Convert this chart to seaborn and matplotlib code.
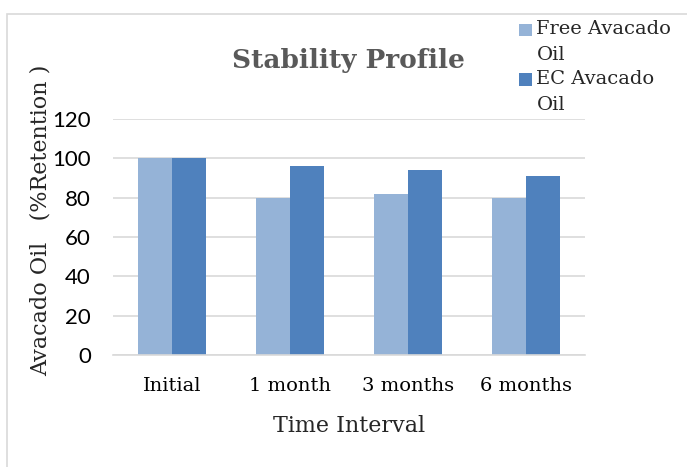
import matplotlib
matplotlib.use("Agg")
import matplotlib.pyplot as plt
import seaborn as sns
import pandas as pd
from matplotlib.patches import Rectangle
from matplotlib.legend_handler import HandlerPatch

# data
intervals = ["Initial", "1 month", "3 months", "6 months"]
free_oil = [100, 80, 82, 80]
ec_oil = [100, 96, 94, 91]
series_names = ["Free Avacado\nOil", "EC Avacado\nOil"]
yticks = [0, 20, 40, 60, 80, 100, 120]

df = pd.DataFrame({
    "Interval": intervals * 2,
    "Value": free_oil + ec_oil,
    "Series": [series_names[0]] * 4 + [series_names[1]] * 4,
})

sns.set_theme(style="white")
serif = ["DejaVu Serif"]
sans = ["Lato", "DejaVu Sans"]

fig = plt.figure(figsize=(6.87, 4.67), dpi=100)
ax = fig.add_axes([0.1645, 0.2398, 0.687, 0.5054])

# light grey chart border
fig.patches.append(Rectangle((7 / 687, -0.1), 1.1, 1 - 14 / 467 + 0.1,
                             transform=fig.transFigure, fill=False,
                             edgecolor="#d9d9d9", linewidth=1.2))

sns.barplot(data=df, x="Interval", y="Value", hue="Series", ax=ax,
            palette=["#95B3D7", "#4F81BD"], width=0.58, saturation=1,
            gap=0, edgecolor="none")

ax.set_ylim(0, 120)
ax.set_yticks(yticks)
ax.set_xlim(-0.5, 3.5)
ax.yaxis.grid(True, color="#d9d9d9", linewidth=1.2)
ax.set_axisbelow(True)
for s in ["top", "right", "left"]:
    ax.spines[s].set_visible(False)
ax.spines["bottom"].set_color("#d9d9d9")
ax.spines["bottom"].set_linewidth(1.2)
ax.tick_params(axis="both", length=0)
ax.tick_params(axis="y", pad=16)
ax.tick_params(axis="x", pad=16)

for lab in ax.get_yticklabels():
    lab.set_fontfamily(sans)
    lab.set_fontsize(16)
    lab.set_color("#000000")
for lab in ax.get_xticklabels():
    lab.set_fontfamily(serif)
    lab.set_fontsize(14)
    lab.set_color("#000000")

ax.set_xlabel("Time Interval", fontfamily=serif, fontsize=16, labelpad=14)
ax.set_ylabel("Avacado Oil   (%Retention )", fontfamily=serif, fontsize=16)
ax.yaxis.set_label_coords(-0.131, 0.572)

fig.text(0.507, 0.87, "Stability Profile", ha="center", va="center",
         fontfamily=serif, fontsize=19, fontweight="bold", color="#595959")


# small square sitting next to the first line of a wrapped legend label
def top_square(legend, orig_handle, xdescent, ydescent, width, height, fontsize):
    sq = 0.65 * fontsize
    return Rectangle((-xdescent, -ydescent + height - sq * 1.05 + 0.2 * fontsize),
                     sq, sq)


handles, labels = ax.get_legend_handles_labels()
leg = ax.legend(handles, labels, loc="upper left", bbox_to_anchor=(0.86, 1.418),
                frameon=False, prop={"family": serif, "size": 14},
                handlelength=0.65, handleheight=2.2, handletextpad=0.25,
                labelspacing=0.31, borderaxespad=0, borderpad=0,
                handler_map={Rectangle: HandlerPatch(patch_func=top_square)})
for t in leg.get_texts():
    t.set_linespacing(1.55)

fig.savefig("out.png", dpi=100)
